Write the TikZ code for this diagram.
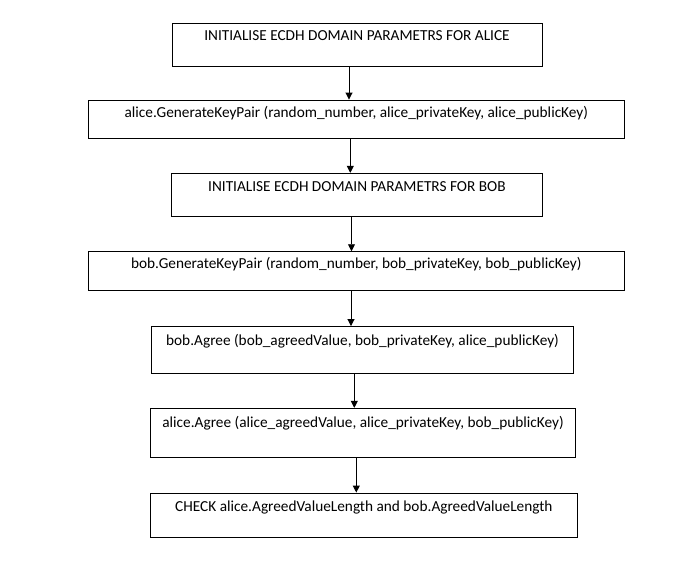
\documentclass[tikz,border=0pt]{standalone}
\usepackage{fontspec}
\setmainfont{Carlito}
\usetikzlibrary{arrows.meta}
\begin{document}
\begin{tikzpicture}[x=1pt,y=-1pt,
  box/.style={draw=black,line width=0.9pt,inner sep=0pt},
  txt/.style={anchor=base,inner sep=0pt,font=\fontsize{15.3}{18}\selectfont},
  arr/.style={line width=0.9pt,-{Triangle[length=7pt,width=7pt]}}]
\useasboundingbox (0,0) rectangle (691,566);
% boxes
\node[box,minimum width=370pt,minimum height=42.7pt] (b1) at (357,44.65) {};
\node[box,minimum width=536pt,minimum height=38pt] (b2) at (356.3,119) {};
\node[box,minimum width=370.8pt,minimum height=43.1pt] (b3) at (356.9,194.85) {};
\node[box,minimum width=536pt,minimum height=39pt] (b4) at (356.3,271.2) {};
\node[box,minimum width=421.6pt,minimum height=46.5pt] (b5) at (362.5,349.75) {};
\node[box,minimum width=424.6pt,minimum height=48.7pt] (b6) at (363,432.65) {};
\node[box,minimum width=426.8pt,minimum height=44.3pt] (b7) at (363.9,515.15) {};
% texts
\node[txt] (t1) at ([yshift=-17.8pt]b1.north) {INITIALISE ECDH DOMAIN PARAMETRS FOR ALICE};
\node[txt] (t2) at ([yshift=-18.3pt]b2.north) {alice.GenerateKeyPair (random\_number, alice\_privateKey, alice\_publicKey)};
\node[txt] (t3) at ([yshift=-18.5pt]b3.north) {INITIALISE ECDH DOMAIN PARAMETRS FOR BOB};
\node[txt] (t4) at ([yshift=-17.5pt]b4.north) {bob.GenerateKeyPair (random\_number, bob\_privateKey, bob\_publicKey)};
\node[txt] (t5) at ([yshift=-19.5pt]b5.north) {bob.Agree (bob\_agreedValue, bob\_privateKey, alice\_publicKey)};
\node[txt] (t6) at ([yshift=-19.4pt]b6.north) {alice.Agree (alice\_agreedValue, alice\_privateKey, bob\_publicKey)};
\node[txt] (t7) at ([yshift=-19pt]b7.north) {CHECK alice.AgreedValueLength and bob.AgreedValueLength};
% arrows
\draw[arr] (b1.south -| 349,0) -- (b2.north -| 349,0);
\draw[arr] (b2.south -| 350.3,0) -- (b3.north -| 350.3,0);
\draw[arr] (b3.south -| 351.5,0) -- (b4.north -| 351.5,0);
\draw[arr] (b4.south -| 351,0) -- (b5.north -| 351,0);
\draw[arr] (b5.south -| 354.3,0) -- (b6.north -| 354.3,0);
\draw[arr] (b6.south -| 356.3,0) -- (b7.north -| 356.3,0);
\end{tikzpicture}
\end{document}
